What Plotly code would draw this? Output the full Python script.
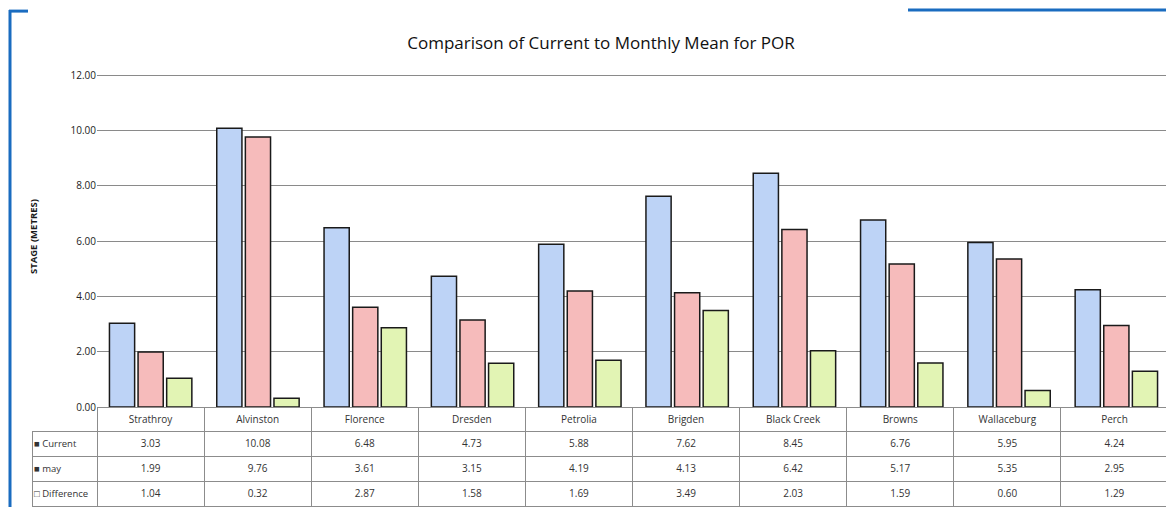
import plotly.graph_objects as go

# the page sits 8px in from the corner and the photo comes out a little squashed
# vertically, so screen positions are mapped back to figure pixels below
OFF = 8
S = 507 / 515
W, H = 1174 - OFF, 507
ML, MR, MT, MB = 24, 4, 62, 0

stations = ["Strathroy", "Alvinston", "Florence", "Dresden", "Petrolia",
            "Brigden", "Black Creek", "Browns", "Wallaceburg", "Perch"]
current = [3.03, 10.08, 6.48, 4.73, 5.88, 7.62, 8.45, 6.76, 5.95, 4.24]
may = [1.99, 9.76, 3.61, 3.15, 4.19, 4.13, 6.42, 5.17, 5.35, 2.95]
difference = [1.04, 0.32, 2.87, 1.58, 1.69, 3.49, 2.03, 1.59, 0.60, 1.29]
series_names = ["Current", "may", "Difference"]
y_ticks = [0, 2, 4, 6, 8, 10, 12]

fills = ["#bdd3f6", "#f6bbbb", "#e2f4b4"]
key_marks = ["■", "■", "□"]

pw = W - ML - MR
ph = H - MT - MB


def px(x):
    # screen pixel -> paper fraction
    return (x - OFF - ML) / pw


def py(y):
    return (H - MB - (y / S - OFF)) / ph


font = "Open Sans"
fig = go.Figure()

for name, vals, col in zip(series_names, [current, may, difference], fills):
    fig.add_trace(go.Bar(
        x=stations, y=vals, name=name,
        marker=dict(color=col, line=dict(color="#1a1a1a", width=1.5)),
    ))

# data table under the bars; row labels are drawn as annotations
n = len(stations)
cols = [[""] * 3] + [[f"{a:.2f}", f"{b:.2f}", f"{c:.2f}"]
                     for a, b, c in zip(current, may, difference)]
clear = "rgba(0,0,0,0)"
fig.add_trace(go.Table(
    domain=dict(x=[0, px(1168)], y=[0, py(406)]),
    columnwidth=[65] + [(1168 - 97) / n] * n,
    header=dict(
        values=[""] + stations,
        height=24,
        align="center",
        fill=dict(color=[clear] + ["white"] * n),
        line=dict(color=[clear] + ["#8c8c8c"] * n, width=1),
        font=dict(family=font, size=10, color="#333333"),
    ),
    cells=dict(
        values=cols,
        height=25,
        align="center",
        fill=dict(color="white"),
        line=dict(color="#8c8c8c", width=1),
        font=dict(family=font, size=10, color="#333333"),
    ),
))

row_y = [442, 467, 492]
annotations = [dict(
    text="<b>STAGE (METRES)</b>", textangle=-90,
    xref="paper", yref="paper", x=px(33), y=py(236),
    xanchor="center", yanchor="middle", showarrow=False,
    font=dict(family=font, size=9.5, color="#1a1a1a"),
)]
for name, mark, ry in zip(series_names, key_marks, row_y):
    annotations.append(dict(
        text=f"{mark} {name}",
        xref="paper", yref="paper", x=px(32), y=py(ry),
        xanchor="left", yanchor="middle", showarrow=False,
        font=dict(family=font, size=9.5, color="#333333"),
    ))

# 12.00 sits a little below the top so its gridline is drawn
y_top = 12.1
unit = (406 - 74) / 12

fig.update_layout(
    width=W, height=H,
    margin=dict(l=ML, r=MR, t=MT, b=MB),
    paper_bgcolor="white", plot_bgcolor="white",
    showlegend=False,
    barmode="group", bargap=0.2, bargroupgap=0.12,
    title=dict(text="Comparison of Current to Monthly Mean for POR",
               x=px(601), xanchor="center", xref="paper",
               y=1 - (42 / S - OFF) / H, yanchor="middle",
               font=dict(family=font, size=17, color="#111111")),
    xaxis=dict(domain=[px(97), 1], showticklabels=False, ticks="",
               showgrid=False, showline=False, zeroline=False),
    yaxis=dict(domain=[py(406), min(1, py(74 - (y_top - 12) * unit))],
               range=[0, y_top], tickvals=y_ticks,
               tickformat=".2f", showgrid=True, gridcolor="#8a8a8a", gridwidth=1,
               zeroline=False, ticks="", ticklen=0,
               tickfont=dict(family=font, size=10, color="#222222")),
    annotations=annotations,
    shapes=[
        dict(type="line", xref="paper", yref="paper", x0=px(10), x1=px(10),
             y0=py(9), y1=py(520), line=dict(color="#1a6cc0", width=3)),
        dict(type="line", xref="paper", yref="paper", x0=px(9), x1=px(28),
             y0=py(10), y1=py(10), line=dict(color="#1a6cc0", width=3)),
        dict(type="line", xref="paper", yref="paper", x0=px(908), x1=px(1180),
             y0=py(9), y1=py(9), line=dict(color="#1a6cc0", width=3)),
    ],
)

fig.write_html("out.html")
